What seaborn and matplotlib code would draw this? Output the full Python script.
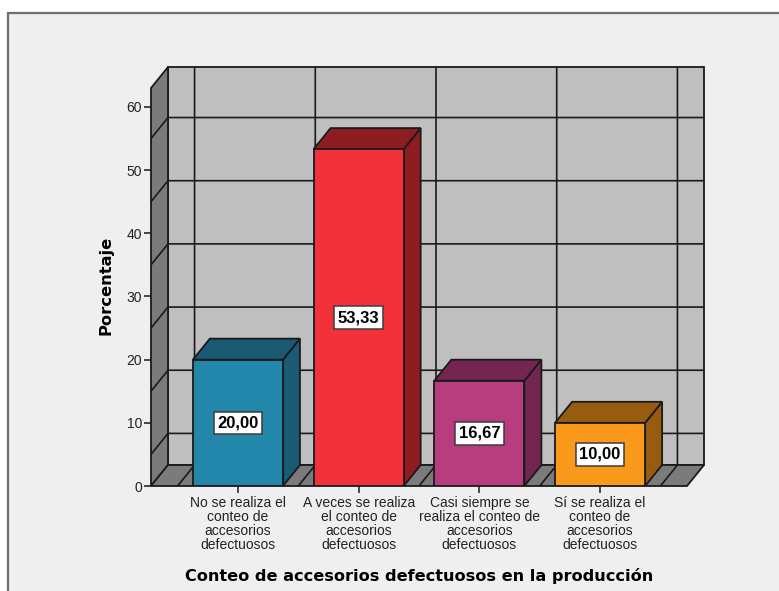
import matplotlib
matplotlib.use("Agg")
import matplotlib.pyplot as plt
from matplotlib.patches import Polygon, Rectangle
import pandas as pd
import seaborn as sns

categories = [
    "No se realiza el\nconteo de\naccesorios\ndefectuosos",
    "A veces se realiza\nel conteo de\naccesorios\ndefectuosos",
    "Casi siempre se\nrealiza el conteo de\naccesorios\ndefectuosos",
    "Sí se realiza el\nconteo de\naccesorios\ndefectuosos",
]
percentages = [20.00, 53.33, 16.67, 10.00]
front_colors = ["#2387ab", "#f2313a", "#b83d7e", "#fb991c"]
side_colors = ["#1a5a72", "#8e1d22", "#732650", "#975c10"]
y_ticks = [0, 10, 20, 30, 40, 50, 60]
y_grid = [5, 15, 25, 35, 45, 55]
x_grid = [-0.5, 0.5, 1.5, 2.5, 3.5]

W, H = 779, 591
PANEL = "#efefef"
WALL = "#bfbfbf"
SHADE = "#7b7b7b"
INK = "#1a1a1a"

sns.set_theme(style="white")
plt.rcParams["font.family"] = ["Liberation Sans", "DejaVu Sans"]

fig = plt.figure(figsize=(W / 100, H / 100), dpi=100, facecolor="white")
# Panel runs off the right and bottom edges of the figure
fig.patches.append(Rectangle((8 / W, -0.1), 1.1, 1.1 - 13 / H, transform=fig.transFigure,
                             fc=PANEL, ec="#6e6e6e", lw=1.6, zorder=-5))

left, right, bottom, top = 151, 687, 486, 88
ax = fig.add_axes([left / W, 1 - bottom / H, (right - left) / W, (bottom - top) / H])
ax.patch.set_visible(False)

frame = pd.DataFrame({"categoria": categories, "porcentaje": percentages})
sns.barplot(data=frame, x="categoria", y="porcentaje", hue="categoria",
            palette=front_colors, saturation=1, width=0.746, dodge=False, legend=False,
            edgecolor=INK, linewidth=1.3, ax=ax)

ax.set_xlim(-0.72, 3.72)
ax.set_ylim(0, 63)

# Oblique depth of the box, in data units
px_x = (right - left) / 4.44
px_y = (bottom - top) / 63
dx, dy = 17 / px_x, 21 / px_y
x0, x1 = ax.get_xlim()
y0, y1 = ax.get_ylim()


def face(points, color, z):
    ax.add_patch(Polygon(points, closed=True, fc=color, ec=INK, lw=1.3,
                         joinstyle="miter", clip_on=False, zorder=z))


def rule(xs, ys, z=1.5):
    ax.plot(xs, ys, color=INK, lw=1.2, clip_on=False, zorder=z, solid_capstyle="butt")


# Back wall, left wall and floor
face([(x0 + dx, y0 + dy), (x1 + dx, y0 + dy), (x1 + dx, y1 + dy), (x0 + dx, y1 + dy)], WALL, 1)
face([(x0, y0), (x0 + dx, y0 + dy), (x0 + dx, y1 + dy), (x0, y1)], SHADE, 1)
face([(x0, y0), (x1, y0), (x1 + dx, y0 + dy), (x0 + dx, y0 + dy)], SHADE, 1)

for v in y_grid:
    rule([x0, x0 + dx, x1 + dx], [v, v + dy, v + dy])
for g in x_grid:
    rule([g, g + dx, g + dx], [y0, y0 + dy, y1 + dy])

# Side and top faces of each bar
bars = list(ax.patches)[:len(percentages)]
for bar, shade, value in zip(bars, side_colors, percentages):
    bar.set_zorder(5)
    a, b = bar.get_x(), bar.get_x() + bar.get_width()
    h = bar.get_height()
    face([(b, 0), (b + dx, dy), (b + dx, h + dy), (b, h)], shade, 4)
    face([(a, h), (b, h), (b + dx, h + dy), (a + dx, h + dy)], shade, 4)
    ax.text((a + b) / 2, h / 2, f"{value:.2f}".replace(".", ","), ha="center", va="center",
            fontsize=12, fontweight="bold", color="black", zorder=6,
            bbox=dict(boxstyle="square,pad=0.22", fc="white", ec="#3c3c3c", lw=1.1))

sns.despine(ax=ax, left=True, bottom=True, top=True, right=True)
ax.set_yticks(y_ticks)
ax.tick_params(axis="y", left=True, length=5, width=1.1, color=INK, pad=1.5,
               labelsize=10, labelcolor="#222222")
ax.tick_params(axis="x", bottom=True, length=5, width=1.1, color=INK, pad=2.5,
               labelsize=10, labelcolor="#222222")
for label in ax.get_xticklabels():
    label.set_linespacing(1.0)

ax.set_ylabel("Porcentaje", fontsize=11.7, fontweight="bold", color="black", labelpad=9,
              fontfamily="DejaVu Sans", y=0.505)
ax.set_xlabel("Conteo de accesorios defectuosos en la producción", fontsize=11.6,
              fontweight="bold", color="black", labelpad=11,
              fontfamily="DejaVu Sans")

fig.savefig("out.png", dpi=100, facecolor="white")
